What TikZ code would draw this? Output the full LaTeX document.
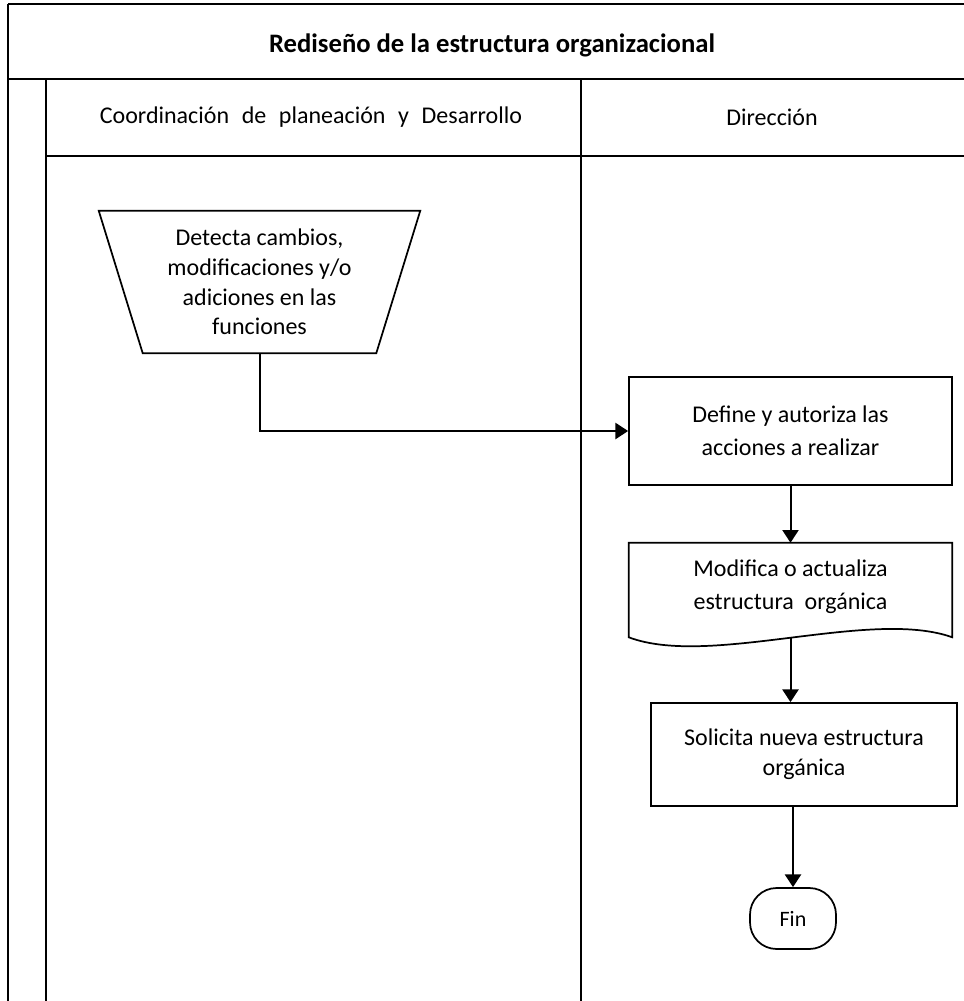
\documentclass[tikz,border=0pt]{standalone}
\usepackage{fontspec}
\setmainfont{Carlito}
\usetikzlibrary{arrows.meta}

\begin{document}
\begin{tikzpicture}[
  x=0.75pt, y=-0.75pt,
  frame/.style={line width=1.5pt, black},
  shapeline/.style={line width=1.3pt, black},
  flow/.style={line width=1.5pt, black, -{Triangle[length=9.5pt,width=12pt]}},
  lanehead/.style={font=\fontsize{18}{22.5}\selectfont, inner sep=0pt},
  boxtext/.style={align=center, inner sep=0pt, font=\fontsize{18}{22.5}\selectfont},
]
\useasboundingbox (0,0) rectangle (964,1001);

% pool frame and lanes
\draw[frame] (8,4) -- (964,4);
\draw[frame] (8,4) -- (8,1001);
\draw[frame] (46,79) -- (964,79);
\draw[line width=2.2pt] (8,79) -- (46,79);
\draw[frame] (46,79) -- (46,1001);
\draw[line width=2pt] (581,79) -- (581,1001);
\draw[frame] (46,156) -- (964,156);

% titles
\node[inner sep=0pt, font=\fontsize{20}{24}\selectfont\bfseries] (title) at (492,45) {Rediseño de la estructura organizacional};
\node[lanehead] (lane1) at (311,117) {\spaceskip=9.5pt Coordinación de planeación y Desarrollo};
\node[lanehead] (lane2) at (772,117) {Dirección};

% manual operation (inverted trapezoid)
\node[boxtext, minimum width=240.75pt, minimum height=106.5pt,
      font=\fontsize{18}{22.3}\selectfont] (detecta) at (259.5,282)
  {Detecta cambios,\\modificaciones y/o\\adiciones en las\\funciones};
\draw[shapeline] (detecta.north west) -- (detecta.north east)
  -- ([xshift=-33pt]detecta.south east) -- ([xshift=33pt]detecta.south west) -- cycle;

% process
\node[boxtext, draw, shapeline, minimum width=242.25pt, minimum height=81pt,
      font=\fontsize{18}{24.75}\selectfont] (define) at (790.5,431)
  {Define y autoriza las\\acciones a realizar};

% document
\node[boxtext, minimum width=242.25pt, minimum height=70.5pt,
      font=\fontsize{18}{24.75}\selectfont] (doc) at (790.5,590) {};
\node[boxtext, font=\fontsize{18}{24.75}\selectfont] (doctext) at (790.5,587)
  {Modifica o actualiza\\estructura\ \ orgánica};
\draw[shapeline] (doc.south west) -- (doc.north west) -- (doc.north east) -- (doc.south east)
  .. controls +(-61.5pt,22pt) and +(60.75pt,-23pt) .. (doc.south west) -- cycle;

% process
\node[boxtext, draw, shapeline, minimum width=229.5pt, minimum height=77.25pt] (solicita) at (804,754.5)
  {Solicita nueva estructura\\orgánica};

% terminator
\node[draw, shapeline, rounded corners=20pt, minimum width=64.5pt, minimum height=45.75pt,
      inner sep=0pt, font=\fontsize{16.5}{19}\selectfont] (fin) at (793,918.5) {Fin};

% connectors
\draw[flow] (detecta.south) |- (define.west);
\draw[flow] (define.south) -- (doc.north);
\draw[flow] (doc.south) -- (doc.south |- solicita.north);
\draw[flow] (fin.north |- solicita.south) -- (fin.north);
\end{tikzpicture}
\end{document}
